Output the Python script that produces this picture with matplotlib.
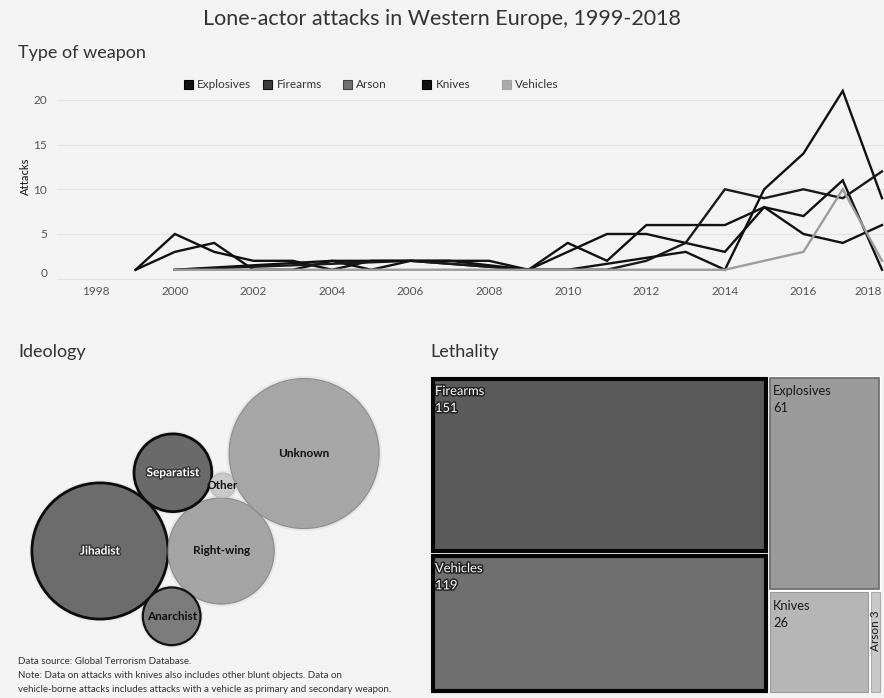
import numpy as np
import matplotlib
matplotlib.use('Agg')
import matplotlib.pyplot as plt
from matplotlib.patches import Circle, Rectangle
import matplotlib.patheffects as pe

plt.rcParams['font.family'] = ['Lato', 'DejaVu Sans']

# ---------------- data ----------------
years = list(range(1999, 2019))
N = None
explosives = [1, 5, 3, 2, 2, 1, 2, 2, 2, 2, 1, 4, 2, 6, 6, 6, 8, 7, 11, 1]
firearms   = [1, 3, 4, 1, 1, 2, 1, 2, N, N, 1, 3, 5, 5, 4, 3, 8, 5, 4, 6]
arson      = [N, 1, N, N, N, N, N, 2, N, N, 1, 1, 1, 2, 4, 10, 9, 10, 9, 12]
knives     = [N, 1, N, N, N, 2, N, N, 2, N, 1, 1, N, N, 3, 1, 10, 14, 21, 9]
vehicles   = [N, 1, 1, 1, 1, 1, 1, 1, 1, 1, 1, 1, 1, 1, 1, 1, 2, 3, 10, 2]
weapon_names = ['Explosives', 'Firearms', 'Arson', 'Knives', 'Vehicles']
y_ticks = [0, 5, 10, 15, 20]
x_ticks = list(range(1998, 2019, 2))

ideology_names = ['Jihadist', 'Right-wing', 'Separatist', 'Anarchist', 'Other', 'Unknown']
ideology_counts = [89, 54, 29, 16, 3, 108]

lethality_names = ['Firearms', 'Vehicles', 'Explosives', 'Knives', 'Arson']
lethality_values = [151, 119, 61, 26, 3]

BG = '#f3f3f3'
W_PX, H_PX = 884, 698

fig = plt.figure(figsize=(8.84, 6.98), dpi=100, facecolor=BG)

# ---------------- line chart ----------------
ax = fig.add_axes([57 / W_PX, 1 - 278.7 / H_PX, 1 - 57 / W_PX, (278.7 - 73) / H_PX])
ax.set_facecolor(BG)
series = [explosives, firearms, arson, knives, vehicles]
line_colors = ['#111111', '#111111', '#1a1a1a', '#111111', '#9c9c9c']
for vals, col in zip(series, line_colors):
    xs = [yr for yr, v in zip(years, vals) if v is not None]
    ys = [v for v in vals if v is not None]
    ax.plot(xs, ys, color=col, lw=1.7, solid_joinstyle='miter', zorder=3)
ax.set_xlim(1997, 2018.05)
ax.set_ylim(0, 23)
ax.set_yticks(y_ticks)
ax.set_xticks(x_ticks)
ax.set_xticklabels([str(t) for t in x_ticks])
ax.tick_params(length=0, labelsize=8.5, labelcolor='#555555')
ax.tick_params(axis='y', pad=7)
ax.tick_params(axis='x', pad=5)
ax.xaxis.get_ticklabels()[-1].set_ha('right')
ax.yaxis.get_ticklabels()[0].set_va('bottom')
for t in y_ticks[1:]:
    ax.axhline(t, color='#e3e3e3', lw=0.8, zorder=1)
for s in ['top', 'right', 'left']:
    ax.spines[s].set_visible(False)
ax.spines['bottom'].set_color('#e2e2e2')
fig.text(25 / W_PX, 1 - 176 / H_PX, 'Attacks', rotation=90, ha='center', va='center',
         fontsize=8, color='#222222', fontweight='medium')

# ---------------- canvas for the rest ----------------
cv = fig.add_axes([0, 0, 1, 1], facecolor='none')
cv.set_xlim(0, W_PX)
cv.set_ylim(H_PX, 0)
cv.axis('off')

cv.text(W_PX / 2, 19, 'Lone-actor attacks in Western Europe, 1999-2018', ha='center',
        va='center', fontsize=15.5, color='#333333')
cv.text(18, 53, 'Type of weapon', ha='left', va='center', fontsize=13, color='#333333')
cv.text(18, 352, 'Ideology', ha='left', va='center', fontsize=13, color='#333333')
cv.text(430, 352, 'Lethality', ha='left', va='center', fontsize=13, color='#333333')

# legend
legend_colors = ['#101010', '#3c3c3c', '#707070', '#101010', '#a9a9a9']
legend_edges = ['#000000', '#111111', '#444444', '#000000', '#a0a0a0']
for i, (name, fc, ec) in enumerate(zip(weapon_names, legend_colors, legend_edges)):
    x0 = 188 + i * 79.5
    cv.add_patch(Rectangle((x0 - 4.5, 84 - 4.5), 9, 9, facecolor=fc, edgecolor=ec, lw=0.8))
    cv.text(x0 + 9, 84, name, ha='left', va='center', fontsize=8.5, color='#333333')

# ---------------- bubble chart ----------------
k = 75 / np.sqrt(max(ideology_counts))
rad = {n: k * np.sqrt(c) for n, c in zip(ideology_names, ideology_counts)}
centers = {}
centers['Jihadist'] = np.array([100.0, 551.0])
centers['Right-wing'] = centers['Jihadist'] + np.array([rad['Jihadist'] + rad['Right-wing'], 0.0])


def tangent(a, b, r, side):
    ca, cb = centers[a], centers[b]
    d1, d2 = rad[a] + r, rad[b] + r
    v = cb - ca
    d = np.hypot(*v)
    u = v / d
    aa = (d1 ** 2 - d2 ** 2 + d ** 2) / (2 * d)
    h = np.sqrt(max(d1 ** 2 - aa ** 2, 0))
    perp = np.array([-u[1], u[0]])
    return ca + aa * u + side * h * perp


centers['Separatist'] = tangent('Jihadist', 'Right-wing', rad['Separatist'], -1)
centers['Anarchist'] = tangent('Jihadist', 'Right-wing', rad['Anarchist'], +1)
centers['Other'] = tangent('Separatist', 'Right-wing', rad['Other'], -1)
centers['Unknown'] = tangent('Right-wing', 'Other', rad['Unknown'], +1)

bub_style = {
    'Jihadist':   ('#6c6c6c', '#0c0c0c', 2.0, 'white'),
    'Separatist': ('#6a6a6a', '#0c0c0c', 2.0, 'white'),
    'Anarchist':  ('#7c7c7c', '#111111', 1.6, '#111111'),
    'Right-wing': ('#a4a4a4', '#8a8a8a', 0.8, '#111111'),
    'Unknown':    ('#a6a6a6', '#8c8c8c', 0.8, '#111111'),
    'Other':      ('#c9c9c9', '#b0b0b0', 0.6, '#111111'),
}
for name in ideology_names:
    fc, ec, lw, tc = bub_style[name]
    c = centers[name]
    r = rad[name]
    cv.add_patch(Circle(c, r + 2.5, facecolor='#dcdcdc', edgecolor='none', alpha=0.6, zorder=2))
    cv.add_patch(Circle(c, r, facecolor=fc, edgecolor=ec, lw=lw, zorder=3))
    effects = [pe.withStroke(linewidth=2, foreground='#333333')] if tc == 'white' else []
    cv.text(c[0], c[1], name, ha='center', va='center', fontsize=8.5, color=tc,
            fontweight='bold', zorder=5, path_effects=effects)

# ---------------- treemap ----------------
tx0, ty0, TW, TH = 430.0, 376.0, 451.0, 317.0
vals = dict(zip(lethality_names, lethality_values))
total = sum(lethality_values)
left_w = TW * (vals['Firearms'] + vals['Vehicles']) / total
f_h = TH * vals['Firearms'] / (vals['Firearms'] + vals['Vehicles'])
right_w = TW - left_w
rest = vals['Explosives'] + vals['Knives'] + vals['Arson']
e_h = TH * vals['Explosives'] / rest
k_w = right_w * vals['Knives'] / (vals['Knives'] + vals['Arson'])
rects = {
    'Firearms':   (tx0, ty0, left_w, f_h),
    'Vehicles':   (tx0, ty0 + f_h, left_w, TH - f_h),
    'Explosives': (tx0 + left_w, ty0, right_w, e_h),
    'Knives':     (tx0 + left_w, ty0 + e_h, k_w, TH - e_h),
    'Arson':      (tx0 + left_w + k_w, ty0 + e_h, right_w - k_w, TH - e_h),
}
tm_style = {
    'Firearms':   ('#5a5a5a', '#050505', 3.0, 'white'),
    'Vehicles':   ('#6f6f6f', '#050505', 3.0, 'white'),
    'Explosives': ('#9b9b9b', '#6a6a6a', 1.2, '#1a1a1a'),
    'Knives':     ('#b6b6b6', '#9a9a9a', 0.8, '#1a1a1a'),
    'Arson':      ('#c9c9c9', '#aaaaaa', 0.8, '#1a1a1a'),
}
for name in lethality_names:
    x, y, w, h = rects[name]
    fc, ec, lw, tc = tm_style[name]
    cv.add_patch(Rectangle((x, y), w, h, facecolor='white', edgecolor='none', zorder=2))
    cv.add_patch(Rectangle((x + 1 + lw / 2, y + 1 + lw / 2), w - 2 - lw, h - 2 - lw,
                           facecolor=fc, edgecolor=ec, lw=lw, zorder=3))
    effects = [pe.withStroke(linewidth=2.2, foreground='#222222')] if tc == 'white' else []
    if name == 'Arson':
        cv.text(x + w / 2 + 0.5, y + 40, f'{name} {vals[name]}', rotation=90, ha='center',
                va='center', fontsize=8.5, color=tc, zorder=5)
    else:
        cv.text(x + 5, y + 15, name, ha='left', va='center', fontsize=9.3, color=tc,
                zorder=5, path_effects=effects)
        cv.text(x + 5, y + 32, str(vals[name]), ha='left', va='center', fontsize=9.3,
                color=tc, zorder=5, path_effects=effects)

# ---------------- footnote ----------------
notes = ['Data source: Global Terrorism Database.',
         'Note: Data on attacks with knives also includes other blunt objects. Data on',
         'vehicle-borne attacks includes attacks with a vehicle as primary and secondary weapon.']
for i, line in enumerate(notes):
    cv.text(18, 662 + i * 14, line, ha='left', va='center', fontsize=7.05, color='#333333')

fig.savefig('out.png', dpi=100, facecolor=BG)
